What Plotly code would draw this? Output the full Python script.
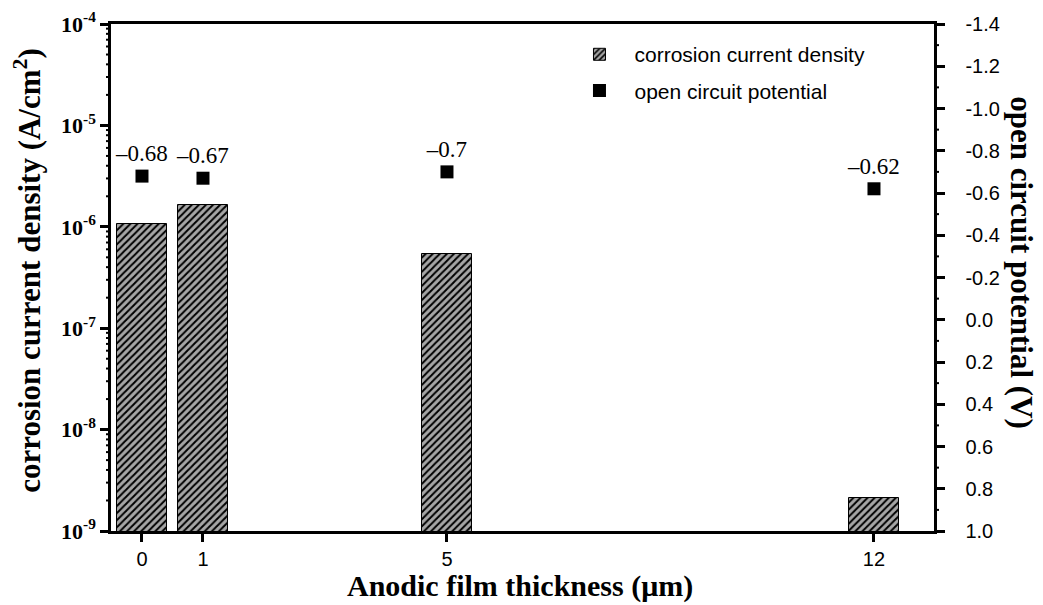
import plotly.graph_objects as go

# Anodic film thickness (µm)
thickness = [0, 1, 5, 12]
# Corrosion current density (A/cm^2)
icorr = [1.06e-6, 1.65e-6, 5.4e-7, 2.1e-9]
# Open circuit potential (V)
ocp = [-0.68, -0.67, -0.70, -0.62]

decades = [-9, -8, -7, -6, -5, -4]
left_tickvals = [10.0 ** d for d in decades]
left_ticktext = [f"10<sup>{d}</sup>" for d in decades]
left_minorvals = [m * 10.0 ** d for d in decades[:-1] for m in range(2, 10)]

right_tickvals = [-1.4, -1.2, -1.0, -0.8, -0.6, -0.4, -0.2, 0.0, 0.2, 0.4, 0.6, 0.8, 1.0]
right_ticktext = ["-1.4", "-1.2", "-1.0", "-0.8", "-0.6", "-0.4", "-0.2",
                  "0.0", "0.2", "0.4", "0.6", "0.8", "1.0"]
right_minorvals = [round(a + 0.1, 2) for a in right_tickvals[:-1]]

SERIF = "Liberation Serif, Times New Roman, serif"
SANS = "Liberation Sans, Arial, sans-serif"
PAD = "\u00a0\u00a0\u00a0"

fig = go.Figure()

fig.add_trace(go.Bar(
    x=thickness, y=icorr, width=0.82,
    name="corrosion current density",
    legendgroup="a",
    marker=dict(
        color="#a6a6a6",
        line=dict(color="black", width=1),
        pattern=dict(shape="/", fgcolor="black", bgcolor="#a6a6a6",
                     size=5, solidity=0.4, fillmode="replace"),
    ),
    yaxis="y",
))

fig.add_trace(go.Scatter(
    x=thickness, y=ocp, mode="markers+text",
    name="open circuit potential",
    legendgroup="b",
    marker=dict(symbol="square", size=13, color="black"),
    text=[f"{v:g}".replace("-", "\u2013") for v in ocp],
    textposition="top center",
    textfont=dict(family=SERIF, size=23, color="black"),
    yaxis="y2",
))

# minor tick marks: short pixel-length lines placed on each value axis
minor_ticks = []
for v in left_minorvals:
    minor_ticks.append(dict(type="line", xref="paper", xsizemode="pixel", xanchor=0,
                            x0=-5, x1=0, yref="y", y0=v, y1=v,
                            line=dict(color="black", width=2)))
for v in right_minorvals:
    minor_ticks.append(dict(type="line", xref="paper", xsizemode="pixel", xanchor=1,
                            x0=0, x1=5, yref="y2", y0=v, y1=v,
                            line=dict(color="black", width=2)))

fig.update_layout(
    width=1043, height=605,
    margin=dict(l=111, r=109, t=24, b=74),
    paper_bgcolor="white", plot_bgcolor="white",
    bargap=0,
    showlegend=True,
    legend=dict(
        x=0.551, y=0.98, xanchor="left", yanchor="top",
        font=dict(family=SANS, size=21, color="black"),
        itemwidth=60, traceorder="grouped", tracegroupgap=6,
        bgcolor="rgba(0,0,0,0)",
    ),
    xaxis=dict(
        range=[-0.508, 12.984], automargin=False,
        tickvals=thickness, ticktext=[str(t) for t in thickness],
        ticks="outside", ticklen=8, tickwidth=2.5, tickcolor="black",
        tickfont=dict(family=SANS, size=20, color="black"),
        showline=True, linecolor="black", linewidth=2.5, mirror=True,
        showgrid=False, zeroline=False,
    ),
    yaxis=dict(
        type="log", range=[-9, -4], automargin=False,
        tickvals=left_tickvals, ticktext=left_ticktext,
        ticks="outside", ticklen=8, tickwidth=2.5, tickcolor="black",
        tickfont=dict(family=SERIF, size=22, color="black", weight="bold"),
        showline=True, linecolor="black", linewidth=2.5,
        showgrid=False, zeroline=False,
    ),
    yaxis2=dict(
        overlaying="y", side="right", anchor="x", automargin=False,
        range=[1.0, -1.4],
        tickvals=right_tickvals, ticktext=[PAD + t for t in right_ticktext],
        ticks="outside", ticklen=8, tickwidth=2.5, tickcolor="black",
        tickfont=dict(family=SANS, size=20, color="black"),
        showline=True, linecolor="black", linewidth=2.5,
        showgrid=False, zeroline=False,
    ),
    shapes=minor_ticks,
    annotations=[
        dict(
            text="corrosion current density (A/cm<sup>2</sup>)",
            xref="paper", yref="paper", x=-0.101, y=0.515,
            xanchor="center", yanchor="middle", textangle=-90,
            showarrow=False,
            font=dict(family=SERIF, size=31, color="black", weight="bold"),
        ),
        dict(
            text="open circuit potential (V)",
            xref="paper", yref="paper", x=1.107, y=0.53,
            xanchor="center", yanchor="middle", textangle=90,
            showarrow=False,
            font=dict(family=SERIF, size=31, color="black", weight="bold"),
        ),
        dict(
            text="Anodic film thickness (\u03bcm)",
            xref="paper", yref="paper", x=0.497, y=-0.145,
            xanchor="center", yanchor="bottom",
            showarrow=False,
            font=dict(family=SERIF, size=30, color="black", weight="bold"),
        ),
    ],
)

fig.write_html("out.html")
